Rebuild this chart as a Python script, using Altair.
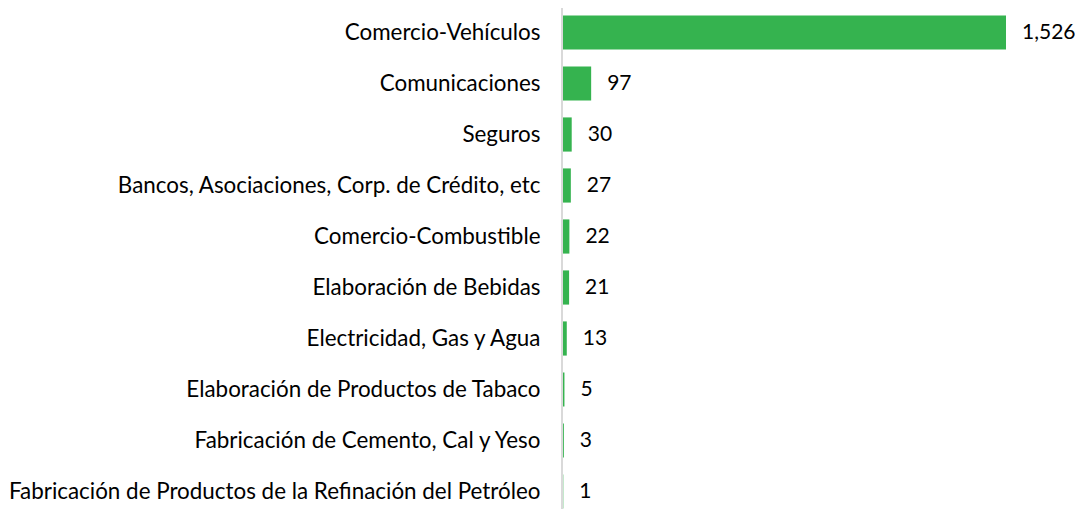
import altair as alt
import pandas as pd

categories = [
    "Comercio-Vehículos",
    "Comunicaciones",
    "Seguros",
    "Bancos, Asociaciones, Corp. de Crédito, etc",
    "Comercio-Combustible",
    "Elaboración de Bebidas",
    "Electricidad, Gas y Agua",
    "Elaboración de Productos de Tabaco",
    "Fabricación de Cemento, Cal y Yeso",
    "Fabricación de Productos de la Refinación del Petróleo",
]
values = [1526, 97, 30, 27, 22, 21, 13, 5, 3, 1]

df = pd.DataFrame({"cat": categories, "val": values})

FONT = "Lato"
FSIZE = 22.4

yenc = alt.Y(
    "cat:N",
    sort=categories,
    scale=alt.Scale(range=[-1, 509], paddingInner=0.33, paddingOuter=0.165),
    axis=alt.Axis(
        title=None,
        ticks=False,
        grid=False,
        domain=False,
        labelFont=FONT,
        labelFontSize=FSIZE,
        labelColor="#000000",
        labelPadding=23,
        labelLimit=0,
    ),
)

xscale = alt.Scale(domain=[0, 1526], nice=False)

bars = alt.Chart(df).mark_bar(color="#35B34F").encode(
    y=yenc,
    x=alt.X("val:Q", axis=None, scale=xscale),
)

text = alt.Chart(df).mark_text(
    align="left", dx=16, font=FONT, fontSize=21, color="#000000"
).encode(
    y=yenc,
    x=alt.X("val:Q", axis=None, scale=xscale),
    text=alt.Text("val:Q", format=","),
)

axis_line = alt.Chart(df).mark_rule(color="#D9D9D9", strokeWidth=1.5).encode(
    x=alt.value(-1),
    y=alt.value(-1),
    y2=alt.value(509),
)

chart = (
    (axis_line + bars + text)
    .properties(
        width=443,
        height=501,
        autosize="none",
        background="white",
        padding={"left": 555, "top": 0, "right": 69, "bottom": 0},
    )
    .configure_view(stroke=None, strokeWidth=0)
)

chart.save("out.html", embed_options={"renderer": "svg", "actions": False})
